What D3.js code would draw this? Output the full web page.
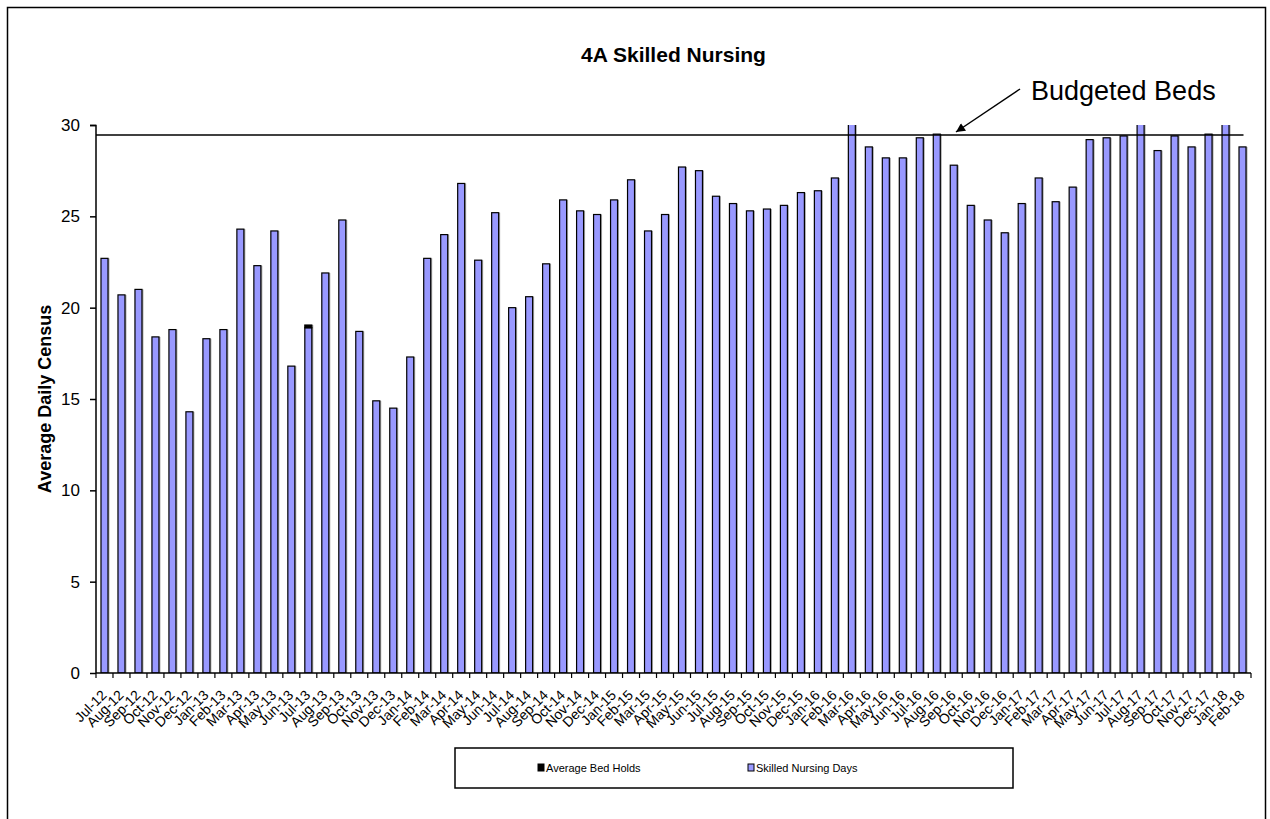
<!DOCTYPE html>
<html>
<head>
<meta charset="utf-8">
<script src="https://cdn.jsdelivr.net/npm/d3@7"></script>
<style>
  html, body { margin: 0; padding: 0; background: #fff; }
  svg { display: block; font-family: "Liberation Sans", Arial, sans-serif; }
</style>
</head>
<body>
<div id="chart"></div>
<script>
// Month labels, Jul-12 .. Feb-18
const months = [
  "Jul-12","Aug-12","Sep-12","Oct-12","Nov-12","Dec-12",
  "Jan-13","Feb-13","Mar-13","Apr-13","May-13","Jun-13","Jul-13","Aug-13","Sep-13","Oct-13","Nov-13","Dec-13",
  "Jan-14","Feb-14","Mar-14","Apr-14","May-14","Jun-14","Jul-14","Aug-14","Sep-14","Oct-14","Nov-14","Dec-14",
  "Jan-15","Feb-15","Mar-15","Apr-15","May-15","Jun-15","Jul-15","Aug-15","Sep-15","Oct-15","Nov-15","Dec-15",
  "Jan-16","Feb-16","Mar-16","Apr-16","May-16","Jun-16","Jul-16","Aug-16","Sep-16","Oct-16","Nov-16","Dec-16",
  "Jan-17","Feb-17","Mar-17","Apr-17","May-17","Jun-17","Jul-17","Aug-17","Sep-17","Oct-17","Nov-17","Dec-17",
  "Jan-18","Feb-18"
];

const skilledNursingDays = [
  22.7, 20.7, 21.0, 18.4, 18.8, 14.3,
  18.3, 18.8, 24.3, 22.3, 24.2, 16.8, 18.9, 21.9, 24.8, 18.7, 14.9, 14.5,
  17.3, 22.7, 24.0, 26.8, 22.6, 25.2, 20.0, 20.6, 22.4, 25.9, 25.3, 25.1,
  25.9, 27.0, 24.2, 25.1, 27.7, 27.5, 26.1, 25.7, 25.3, 25.4, 25.6, 26.3,
  26.4, 27.1, 30.4, 28.8, 28.2, 28.2, 29.3, 29.5, 27.8, 25.6, 24.8, 24.1,
  25.7, 27.1, 25.8, 26.6, 29.2, 29.3, 29.4, 30.4, 28.6, 29.4, 28.8, 29.5,
  30.4, 28.8
];

const avgBedHolds = [
  0, 0, 0, 0, 0, 0,
  0, 0, 0, 0, 0, 0, 0.15, 0, 0, 0, 0, 0,
  0, 0, 0, 0, 0, 0, 0, 0, 0, 0, 0, 0,
  0, 0, 0, 0, 0, 0, 0, 0, 0, 0, 0, 0,
  0, 0, 0, 0, 0, 0, 0, 0, 0, 0, 0, 0,
  0, 0, 0, 0, 0, 0, 0, 0, 0, 0, 0, 0,
  0, 0
];

const budgetedBeds = 29.45;
const yTicks = [0, 5, 10, 15, 20, 25, 30];

const W = 1270, H = 819;
const margin = { top: 125, right: 19, bottom: 146, left: 96 };
const width = W - margin.left - margin.right;
const height = H - margin.top - margin.bottom;

const svg = d3.select("#chart").append("svg")
  .attr("width", W)
  .attr("height", H);

// outer chart border
svg.append("rect")
  .attr("x", 7.5).attr("y", 7.5)
  .attr("width", 1258).attr("height", 840)
  .attr("fill", "none")
  .attr("stroke", "#000")
  .attr("stroke-width", 1.5);

const g = svg.append("g")
  .attr("transform", `translate(${margin.left},${margin.top})`);

const x = d3.scaleBand()
  .domain(months)
  .range([0, width])
  .padding(0);

const y = d3.scaleLinear()
  .domain([0, 30])
  .range([height, 0]);

g.append("defs").append("clipPath")
  .attr("id", "plotClip")
  .append("rect")
  .attr("x", 0).attr("y", 0)
  .attr("width", width).attr("height", height);

const barW = 7;
const rows = months.map((m, i) => ({ m, snd: skilledNursingDays[i], bh: avgBedHolds[i] }));

const bars = g.append("g").attr("clip-path", "url(#plotClip)");

// light shadow to the right of each bar
bars.selectAll("rect.shadow")
  .data(rows)
  .enter().append("rect")
  .attr("class", "shadow")
  .attr("x", d => x(d.m) + (x.bandwidth() - barW) / 2 + 1.5)
  .attr("y", d => y(d.snd + d.bh))
  .attr("width", barW)
  .attr("height", d => height - y(d.snd + d.bh))
  .attr("fill", "#aaa");

bars.selectAll("rect.snd")
  .data(rows)
  .enter().append("rect")
  .attr("class", "snd")
  .attr("x", d => x(d.m) + (x.bandwidth() - barW) / 2)
  .attr("y", d => y(d.snd))
  .attr("width", barW)
  .attr("height", d => height - y(d.snd))
  .attr("fill", "#9999ff")
  .attr("stroke", "#000")
  .attr("stroke-width", 1.2);

bars.selectAll("rect.bh")
  .data(rows.filter(d => d.bh > 0))
  .enter().append("rect")
  .attr("class", "bh")
  .attr("x", d => x(d.m) + (x.bandwidth() - barW) / 2)
  .attr("y", d => y(d.snd + d.bh))
  .attr("width", barW)
  .attr("height", d => y(d.snd) - y(d.snd + d.bh))
  .attr("fill", "#000")
  .attr("stroke", "#000")
  .attr("stroke-width", 1.2);

// budgeted beds line
g.append("line")
  .attr("x1", 0).attr("x2", x(months[months.length - 1]) + x.bandwidth() / 2 + 1)
  .attr("y1", y(budgetedBeds)).attr("y2", y(budgetedBeds))
  .attr("stroke", "#000")
  .attr("stroke-width", 1.5);

// Y axis
const yAxis = g.append("g")
  .call(d3.axisLeft(y).tickValues(yTicks).tickSize(6).tickPadding(10));
yAxis.select(".domain").attr("stroke-width", 1.5).attr("d", `M-6,0.5H0V${height}`);
yAxis.selectAll(".tick line").attr("stroke-width", 1.5);
yAxis.selectAll("text")
  .attr("font-size", "17px")
  .attr("font-family", "Liberation Sans, Arial, sans-serif")
  .attr("fill", "#000");

// X axis: ticks on category boundaries
const xAxisG = g.append("g").attr("transform", `translate(0,${height})`);
xAxisG.append("line")
  .attr("x1", 0).attr("x2", width)
  .attr("stroke", "#000").attr("stroke-width", 1.5);
xAxisG.selectAll("line.tk")
  .data(months.concat(["end"]))
  .enter().append("line")
  .attr("class", "tk")
  .attr("x1", (d, i) => i * x.step()).attr("x2", (d, i) => i * x.step())
  .attr("y1", 0).attr("y2", 5)
  .attr("stroke", "#000").attr("stroke-width", 1.2);
xAxisG.selectAll("text")
  .data(months)
  .enter().append("text")
  .attr("transform", d => `translate(${x(d) + x.bandwidth() / 2 + 3},${23}) rotate(-45)`)
  .attr("text-anchor", "end")
  .attr("font-size", "14px")
  .attr("fill", "#000")
  .text(d => d);

// title
svg.append("text")
  .attr("x", margin.left + width / 2)
  .attr("y", 62)
  .attr("text-anchor", "middle")
  .attr("font-size", "21px")
  .attr("font-weight", "bold")
  .text("4A Skilled Nursing");

// y label
svg.append("text")
  .attr("transform", `translate(51,${margin.top + height / 2}) rotate(-90)`)
  .attr("text-anchor", "middle")
  .attr("font-size", "18px")
  .attr("font-weight", "bold")
  .text("Average Daily Census");

// Budgeted Beds annotation
svg.append("text")
  .attr("x", 1031)
  .attr("y", 100)
  .attr("font-size", "27px")
  .text("Budgeted Beds");

svg.append("defs").append("marker")
  .attr("id", "arrowHead")
  .attr("viewBox", "0 0 10 10")
  .attr("refX", 10).attr("refY", 5)
  .attr("markerWidth", 10).attr("markerHeight", 9)
  .attr("markerUnits", "userSpaceOnUse")
  .attr("orient", "auto")
  .append("path")
  .attr("d", "M0,0L10,5L0,10Z")
  .attr("fill", "#000");

svg.append("line")
  .attr("x1", 1020).attr("y1", 89)
  .attr("x2", 956).attr("y2", 132)
  .attr("stroke", "#000")
  .attr("stroke-width", 1.5)
  .attr("marker-end", "url(#arrowHead)");

// legend
const leg = svg.append("g");
leg.append("rect")
  .attr("x", 455).attr("y", 748)
  .attr("width", 558).attr("height", 40)
  .attr("fill", "#fff")
  .attr("stroke", "#000")
  .attr("stroke-width", 1.5);

const legendItems = [
  { label: "Average Bed Holds", fill: "#000", x: 538 },
  { label: "Skilled Nursing Days", fill: "#9999ff", x: 748 }
];
legendItems.forEach(it => {
  leg.append("rect")
    .attr("x", it.x).attr("y", 764)
    .attr("width", 6).attr("height", 7)
    .attr("fill", it.fill)
    .attr("stroke", "#000")
    .attr("stroke-width", 1);
  leg.append("text")
    .attr("x", it.x + 8).attr("y", 772)
    .attr("font-size", "11px")
    .text(it.label);
});
</script>
</body>
</html>
